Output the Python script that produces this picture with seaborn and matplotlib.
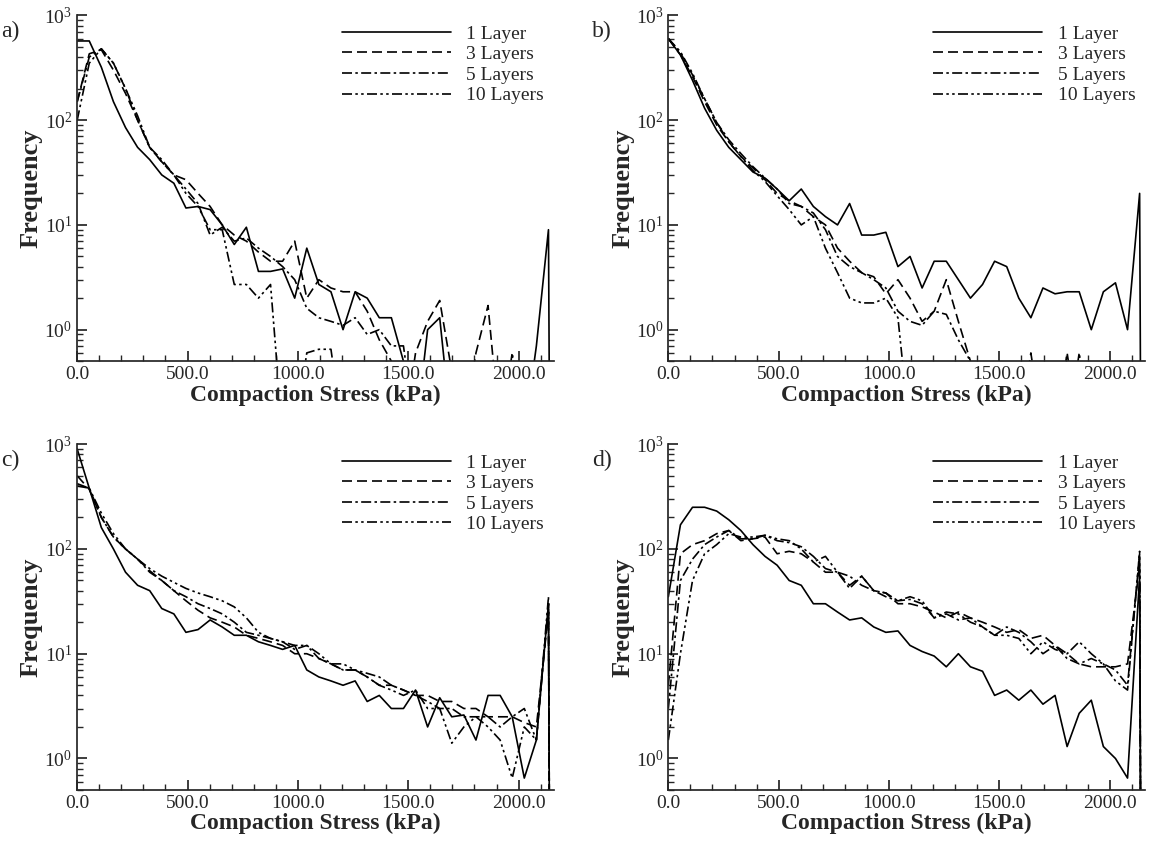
import numpy as np
import pandas as pd
import matplotlib
matplotlib.use('Agg')
import matplotlib.pyplot as plt
from matplotlib.ticker import LogLocator, MultipleLocator, FormatStrFormatter, NullFormatter
import seaborn as sns

# ── Data ──────────────────────────────────────────────────
stress = np.arange(40) * 54.75          # bin positions (kPa)
series = ['1 Layer', '3 Layers', '5 Layers', '10 Layers']
z = 0.1   # empty bin (below the axis)

a_1  = [570,570,320,150,85,55,42,30,25,14.5, 15,14,10,6.5,9.5,3.6,3.6,3.8,2,6,
        2.7,2.3,1,2.3,2,1.3,1.3,0.5,z,1, 1.3,z,z,z,z,z,z,z,0.7,9]
a_3  = [150,430,470,300,180,100,55,40,30,27, 20,15,10,8,7,5.5,4.5,4.5,7,2,
        3,2.5,2.3,2.3,1.5,0.8,0.5,z,0.6,1.2, 1.9,0.4,z,0.6,1.7,z,z,z,z,z]
a_5  = [150,400,480,350,200,100,55,42,30,22, 16,8,9.5,7,7.5,6,5,4,3,1.6,
        1.3,1.2,1.1,1.3,0.9,1,0.7,0.7,z,z, z,z,z,z,z,z,0.6,z,z,z]
a_10 = [100,350,480,350,200,110,55,40,30,20, 15,9,9,2.7,2.7,2,2.7,z,z,0.6,
        0.65,0.65,z,z,z,z,z,z,z,z, z,z,z,z,z,z,z,z,z,z]

b_1  = [600,420,240,130,80,55,42,32,28,22, 17,22,15,12,10,16,8,8,8.5,4,
        5,2.5,4.5,4.5,3,2,2.7,4.5,4,2, 1.3,2.5,2.2,2.3,2.3,1,2.3,2.8,1,20]
b_3  = [600,420,260,150,90,62,45,35,27,20, 17,15,12,10,6,4.5,3.5,3.2,2.2,3,
        2,1.2,1.5,3,1.2,0.5,z,z,z,z, 0.6,z,z,0.6,z,z,z,z,z,z]
b_5  = [600,440,270,160,95,65,48,36,28,22, 16,15,13,9,5,4,3.5,3,2.5,1.5,
        1.2,1.1,1.5,1.4,0.8,0.5,z,z,z,z, z,z,z,z,0.6,z,z,z,z,z]
b_10 = [600,450,280,160,95,62,45,33,26,19, 14,10,12,6,3.5,2,1.8,1.8,2,1.3,
        z,z,z,z,z,z,z,z,z,z, z,z,z,z,z,z,z,z,z,z]

c_1  = [900,380,160,100,60,45,40,27,24,16, 17,21,18,15,15,13,12,11,12,7,
        6,5.5,5,5.5,3.5,4,3,3,4.5,2, 3.8,2.5,2.6,1.5,4,4,2.5,0.65,1.5,30]
c_3  = [500,370,200,130,100,80,62,50,40,32, 26,22,20,18,15,14,13,12,10,10,
        9,8,7,7,6,5,5,4.5,4,4, 3.5,3.5,3,3,2.5,2.5,2.5,2.2,2,25]
c_5  = [400,380,200,130,100,80,60,50,40,35, 30,27,24,20,16,15,14,13,11,12,
        9,8,7,7,6.5,6,5,4.5,4,3.5, 3,3,2.5,2.5,2.5,2,2.5,3,1.5,30]
c_10 = [420,380,220,140,100,80,65,55,48,42, 38,35,32,28,22,16,14,13,12,12,
        10,8,8,7,6,5,4.5,4,4.5,3, 3,1.4,2,2.5,2,1.5,0.65,2,1.5,35]

d_1  = [35,170,250,250,230,190,150,110,85,70, 50,45,30,30,25,21,22,18,16,16.5,
        12,10.5,9.5,7.5,10,7.5,6.8,4,4.5,3.6, 4.5,3.3,4,1.3,2.7,3.6,1.3,1,0.65,55]
d_3  = [5,90,110,120,140,150,120,125,130,90, 95,90,75,60,60,45,55,40,38,30,
        30,28,25,22,25,22,20,18,16,17, 14,15,12,10,8,7.5,7.5,7.5,8,70]
d_5  = [3,50,80,110,130,150,125,125,135,120, 115,105,85,65,60,42,55,40,35,32,
        33,30,22,24,21,22,18,15,18,16, 13,10,12,9,8,9,8,7,5,90]
d_10 = [1.5,10,50,90,110,140,130,130,135,125, 120,100,75,85,60,55,45,40,38,32,
        35,32,22,25,24,20,18,15,15,14, 10,13,11,10,13,10,8,5.5,4.5,95]

panels = {'a)': [a_1, a_3, a_5, a_10], 'b)': [b_1, b_3, b_5, b_10],
          'c)': [c_1, c_3, c_5, c_10], 'd)': [d_1, d_3, d_5, d_10]}

# ── Style ─────────────────────────────────────────────────
sns.set_theme(style='ticks')
plt.rcParams['font.family'] = ['Liberation Serif', 'DejaVu Serif']
plt.rcParams['mathtext.fontset'] = 'stix'

dashes = {'1 Layer': '', '3 Layers': (6, 3), '5 Layers': (6, 2, 1.5, 2),
          '10 Layers': (6, 2, 1.5, 2, 1.5, 2)}

fig, axes = plt.subplots(2, 2, figsize=(11.52, 8.55), dpi=100)
fig.subplots_adjust(left=0.067, right=0.994, top=0.982, bottom=0.076,
                    hspace=0.24, wspace=0.24)

for ax, (tag, vals) in zip(axes.flat, panels.items()):
    x_end = stress[-1] + 5
    rows = []
    for name, v in zip(series, vals):
        for xx, yy in zip(list(stress) + [x_end], list(v) + [z]):
            rows.append((name, xx, yy))
    df = pd.DataFrame(rows, columns=['series', 'stress', 'freq'])

    sns.lineplot(data=df, x='stress', y='freq', style='series',
                 style_order=series, dashes=dashes, color='black',
                 linewidth=1.2, ax=ax, sort=False, estimator=None)

    ax.set_yscale('log')
    ax.set_ylim(0.5, 1000)
    ax.set_xlim(0, 2160)
    ax.xaxis.set_major_locator(MultipleLocator(500))
    ax.xaxis.set_minor_locator(MultipleLocator(100))
    ax.xaxis.set_major_formatter(FormatStrFormatter('%.1f'))
    ax.yaxis.set_major_locator(LogLocator(base=10))
    ax.yaxis.set_minor_locator(LogLocator(base=10, subs=np.arange(2, 10)))
    ax.yaxis.set_minor_formatter(NullFormatter())
    ax.tick_params(which='both', direction='in', labelsize=14)
    ax.tick_params(which='major', length=7)
    ax.tick_params(which='minor', length=4)
    sns.despine(ax=ax)
    ax.set_xlabel('Compaction Stress (kPa)', fontsize=17, fontweight='bold',
                  labelpad=1)
    ax.set_ylabel('Frequency', fontsize=19, fontweight='bold', labelpad=1)
    ax.legend(frameon=False, loc='upper right', fontsize=14,
              handlelength=5.6, labelspacing=0.15, borderaxespad=0.1,
              handletextpad=0.8)
    ax.text(-0.16, 0.985, tag, transform=ax.transAxes, fontsize=17,
            va='top', ha='left')

plt.savefig('out.png', dpi=100)
